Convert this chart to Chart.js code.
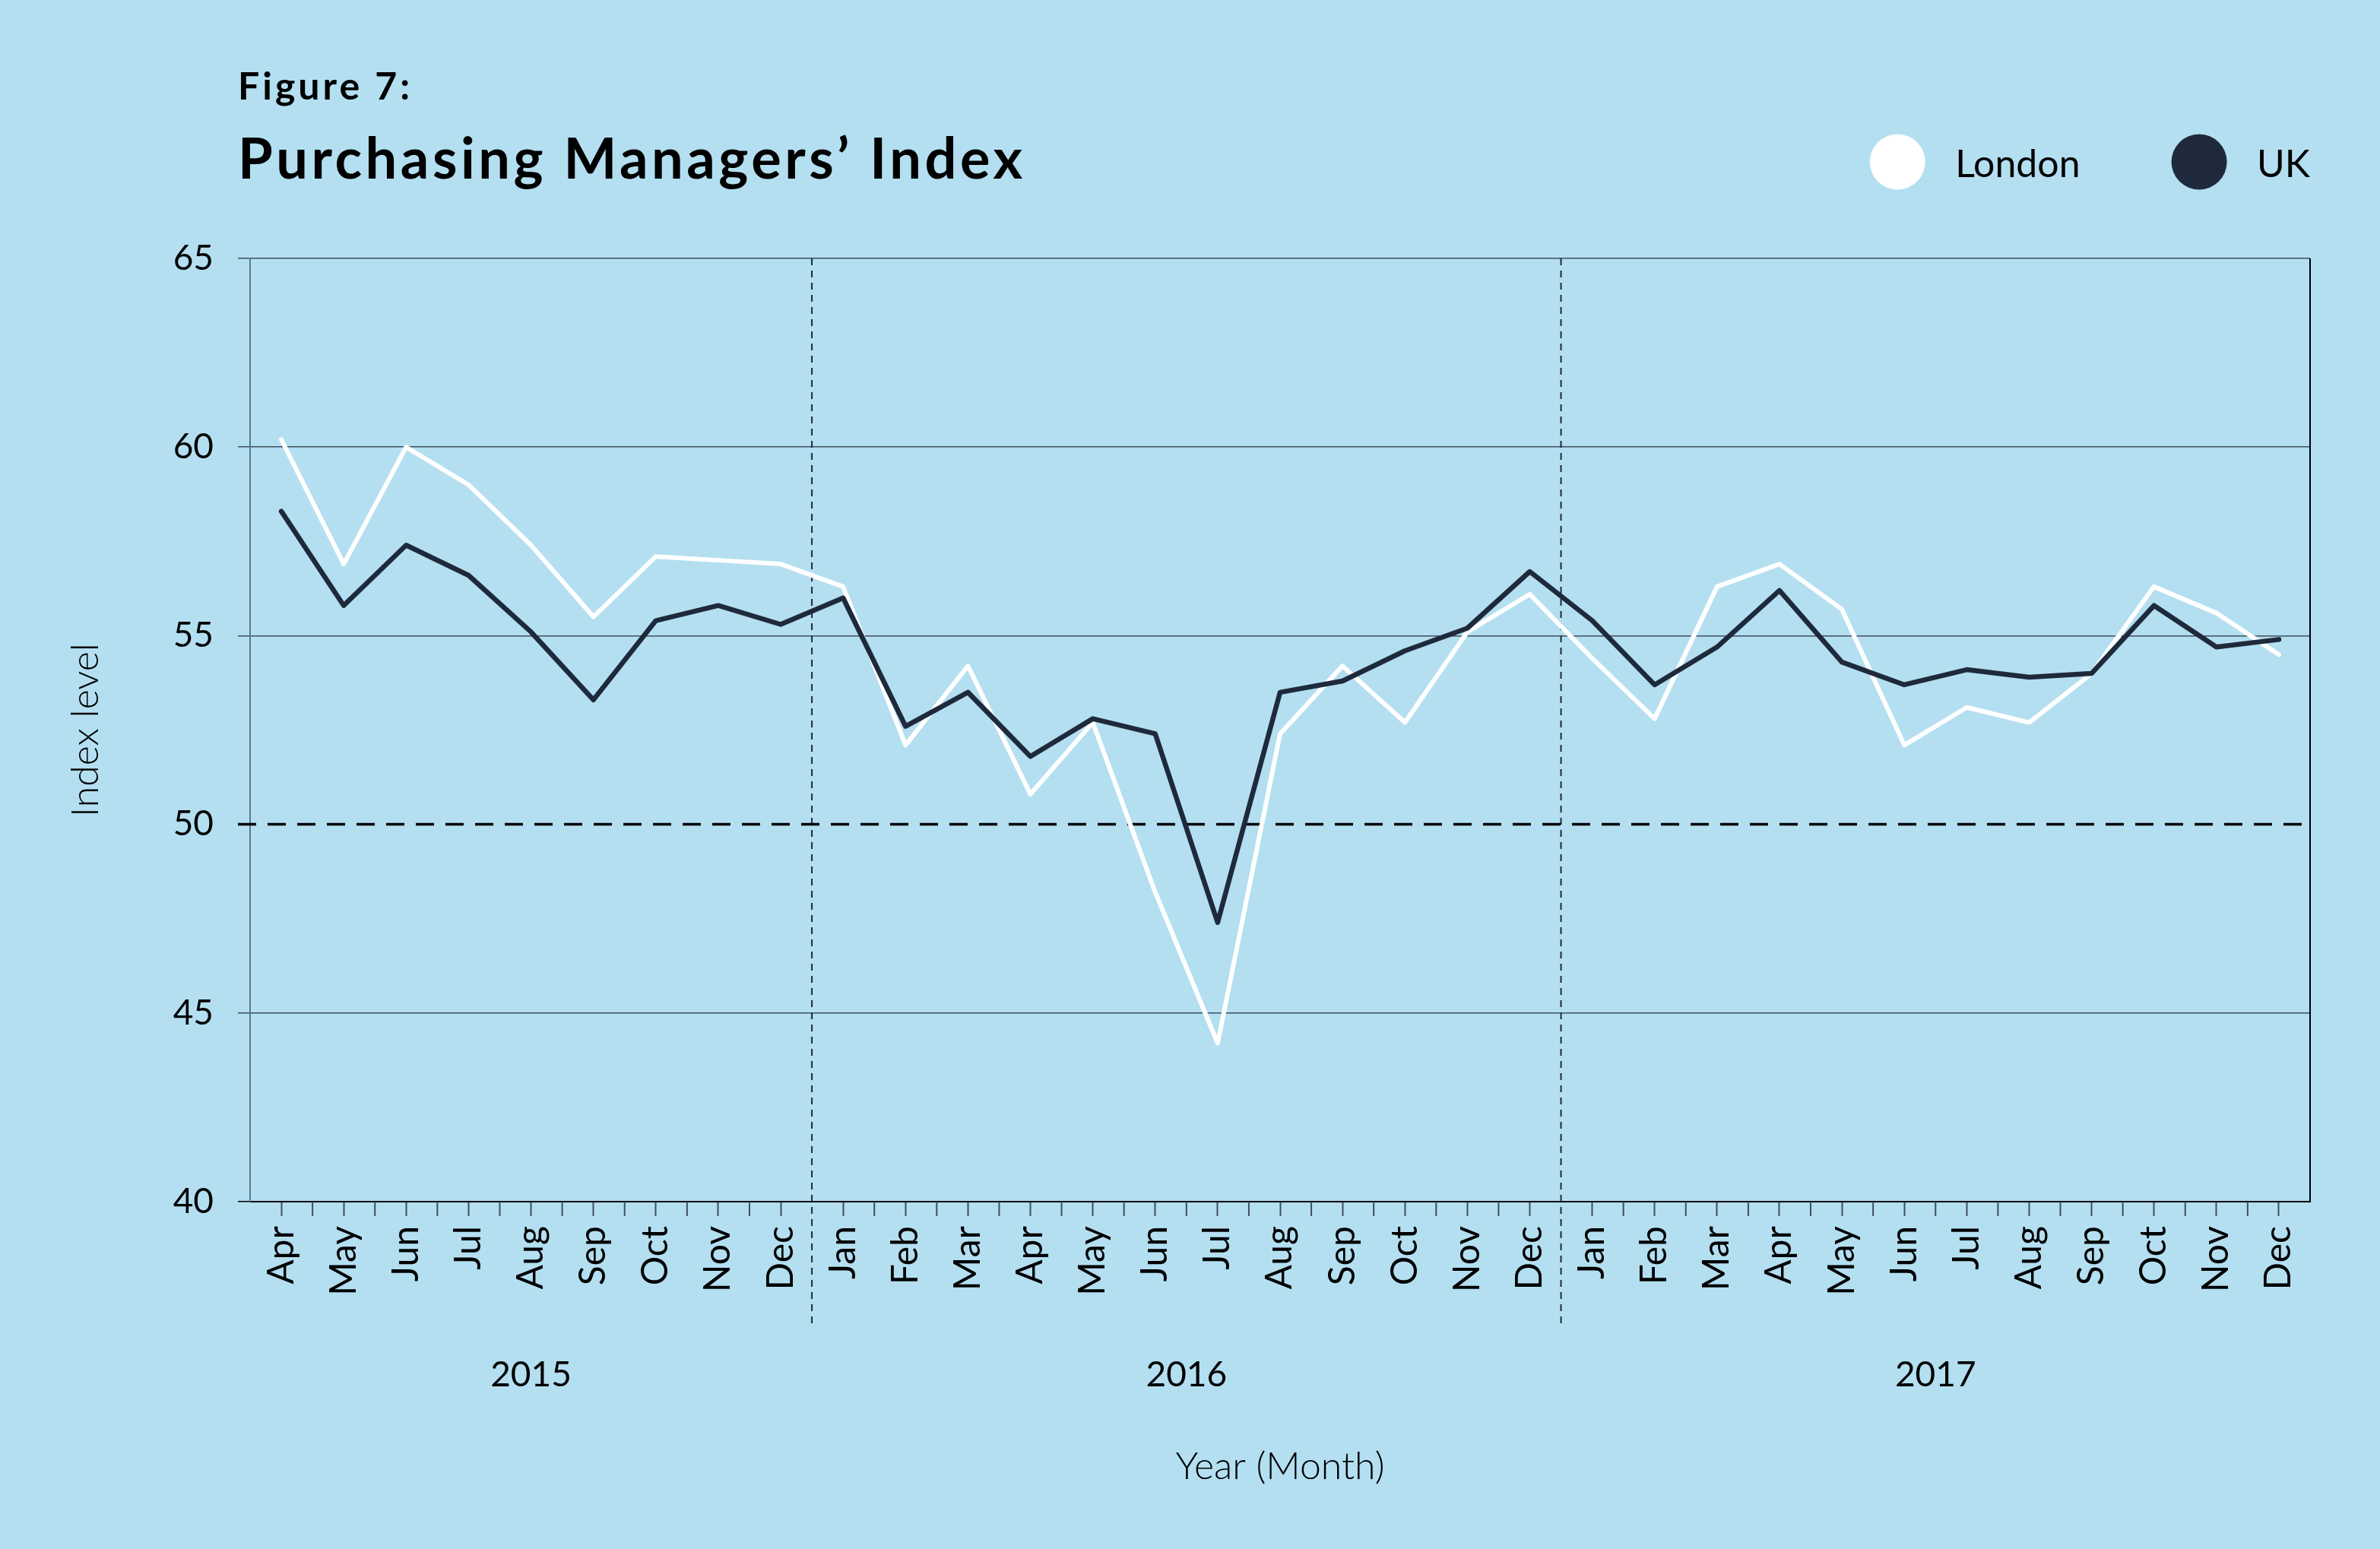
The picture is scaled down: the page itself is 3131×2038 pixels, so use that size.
<!DOCTYPE html>
<html>
<head>
<meta charset="utf-8">
<title>Purchasing Managers' Index</title>
<script src="https://cdn.jsdelivr.net/npm/chart.js@4"></script>
<style>
  html, body { margin: 0; padding: 0; background: #b3dff1; }
  #wrap { width: 3131px; height: 2038px; position: relative; }
</style>
</head>
<body>
<div id="wrap"><canvas id="chart"></canvas></div>
<script>
const figureLabel = 'Figure 7:';
const chartTitle = 'Purchasing Managers\u2019 Index';

const months = ['Apr', 'May', 'Jun', 'Jul', 'Aug', 'Sep', 'Oct', 'Nov', 'Dec',
  'Jan', 'Feb', 'Mar', 'Apr', 'May', 'Jun', 'Jul', 'Aug', 'Sep', 'Oct', 'Nov', 'Dec',
  'Jan', 'Feb', 'Mar', 'Apr', 'May', 'Jun', 'Jul', 'Aug', 'Sep', 'Oct', 'Nov', 'Dec'];
const years = ['2015', '2016', '2017'];

const london = [60.2, 56.9, 60.0, 59.0, 57.4, 55.5, 57.1, 57.0, 56.9,
  56.3, 52.1, 54.2, 50.8, 52.7, 48.2, 44.2, 52.4, 54.2, 52.7, 55.1, 56.1,
  54.4, 52.8, 56.3, 56.9, 55.7, 52.1, 53.1, 52.7, 54.0, 56.3, 55.6, 54.5];
const uk = [58.3, 55.8, 57.4, 56.6, 55.1, 53.3, 55.4, 55.8, 55.3,
  56.0, 52.6, 53.5, 51.8, 52.8, 52.4, 47.4, 53.5, 53.8, 54.6, 55.2, 56.7,
  55.4, 53.7, 54.7, 56.2, 54.3, 53.7, 54.1, 53.9, 54.0, 55.8, 54.7, 54.9];

const yTicks = [40, 45, 50, 55, 60, 65];
const threshold = 50;

const DARK = '#1e2a3b';
const GRID = '#3f4f5a';

// where each year starts in the month list (a new year begins at Jan)
const yearStarts = [0];
months.forEach((m, i) => { if (i > 0 && m === 'Jan') yearStarts.push(i); });
const yearCenters = yearStarts.map((s, k) => {
  const end = k + 1 < yearStarts.length ? yearStarts[k + 1] - 1 : months.length - 1;
  return (s + end) / 2;
});

Chart.defaults.font.family = 'Lato';
Chart.defaults.color = '#000';

// dashed 50 line, year separators, in-between ticks, right border
const framePlugin = {
  id: 'frame',
  beforeDatasetsDraw(chart) {
    const { ctx, chartArea } = chart;
    const xs = chart.scales.x;
    const ys = chart.scales.y;
    ctx.save();

    ctx.strokeStyle = GRID;
    ctx.lineWidth = 2;
    for (let i = 0; i < months.length - 1; i++) {
      if (yearStarts.includes(i + 1)) continue;
      const bx = (xs.getPixelForValue(i) + xs.getPixelForValue(i + 1)) / 2;
      ctx.beginPath();
      ctx.moveTo(bx, chartArea.bottom);
      ctx.lineTo(bx, chartArea.bottom + 19);
      ctx.stroke();
    }

    ctx.strokeStyle = DARK;
    ctx.lineWidth = 2;
    ctx.setLineDash([9, 7]);
    yearStarts.slice(1).forEach(s => {
      const sx = (xs.getPixelForValue(s - 1) + xs.getPixelForValue(s)) / 2;
      ctx.beginPath();
      ctx.moveTo(sx, chartArea.top);
      ctx.lineTo(sx, chartArea.bottom + 162);
      ctx.stroke();
    });

    const ty = ys.getPixelForValue(threshold);
    ctx.strokeStyle = '#000';
    ctx.lineWidth = 3.5;
    ctx.setLineDash([24, 15]);
    ctx.beginPath();
    ctx.moveTo(chartArea.left - 16, ty);
    ctx.lineTo(chartArea.right, ty);
    ctx.stroke();

    ctx.setLineDash([]);
    ctx.lineWidth = 2;
    ctx.beginPath();
    ctx.moveTo(chartArea.right, chartArea.top);
    ctx.lineTo(chartArea.right, chartArea.bottom);
    ctx.stroke();
    ctx.restore();
  }
};

// figure label, title and the circle legend on the right
const headerPlugin = {
  id: 'header',
  afterDraw(chart) {
    const { ctx, chartArea } = chart;
    ctx.save();
    ctx.fillStyle = '#000';
    ctx.textAlign = 'left';
    ctx.textBaseline = 'alphabetic';
    ctx.letterSpacing = '4px';
    ctx.font = 'bold 50px Lato';
    ctx.fillText(figureLabel, chartArea.left - 16, 131);
    ctx.letterSpacing = '4.5px';
    ctx.font = 'bold 74px Lato';
    ctx.fillText(chartTitle, chartArea.left - 16, 235);
    ctx.letterSpacing = '0px';

    ctx.font = '50px Lato';
    const sets = chart.data.datasets;
    let x = chartArea.right;
    for (let i = sets.length - 1; i >= 0; i--) {
      const w = ctx.measureText(sets[i].label).width;
      const textLeft = x - w;
      const cx = textLeft - 76;
      ctx.fillStyle = '#000';
      ctx.fillText(sets[i].label, textLeft, 233);
      ctx.fillStyle = sets[i].borderColor;
      ctx.beginPath();
      ctx.arc(cx, 213, 36.5, 0, Math.PI * 2);
      ctx.fill();
      x = cx - 36.5 - 120;
    }
    ctx.restore();
  }
};

const ctx = document.getElementById('chart');

new Chart(ctx, {
  type: 'line',
  data: {
    labels: months,
    datasets: [
      {
        label: 'London',
        data: london,
        borderColor: '#ffffff',
        backgroundColor: '#ffffff',
        borderWidth: 6,
        order: 1
      },
      {
        label: 'UK',
        data: uk,
        borderColor: DARK,
        backgroundColor: DARK,
        borderWidth: 6.5,
        order: 0
      }
    ]
  },
  options: {
    responsive: true,
    maintainAspectRatio: false,
    animation: false,
    layout: { padding: { top: 340, right: 92, bottom: 0, left: 0 } },
    elements: {
      line: { tension: 0, borderCapStyle: 'round', borderJoinStyle: 'round' },
      point: { radius: 0, hoverRadius: 0 }
    },
    plugins: {
      legend: { display: false },
      tooltip: { enabled: false }
    },
    scales: {
      x: {
        offset: true,
        grid: {
          drawOnChartArea: false,
          offset: false,
          tickLength: 19,
          tickWidth: 2,
          tickColor: GRID
        },
        border: { color: '#000', width: 2 },
        ticks: {
          autoSkip: false,
          minRotation: 90,
          maxRotation: 90,
          padding: 13,
          font: { size: 48 }
        },
        afterFit: scale => { scale.height = 150; }
      },
      years: {
        type: 'linear',
        position: 'bottom',
        min: -0.5,
        max: months.length - 0.5,
        grid: { display: false },
        border: { display: false },
        afterBuildTicks: scale => {
          scale.ticks = yearCenters.map(v => ({ value: v }));
        },
        ticks: {
          autoSkip: false,
          maxRotation: 0,
          padding: 43,
          font: { size: 46 },
          callback: (value, index) => years[index]
        },
        title: {
          display: true,
          text: 'Year (Month)',
          font: { size: 50, weight: 300 },
          padding: { top: 0, bottom: 78 }
        },
        afterFit: scale => { scale.height = 307; }
      },
      y: {
        min: 40,
        max: 65,
        afterBuildTicks: scale => {
          scale.ticks = yTicks.map(v => ({ value: v }));
        },
        grid: {
          color: c => c.tick.value === 40 ? '#000' : (c.tick.value === threshold ? 'rgba(0,0,0,0)' : GRID),
          tickColor: c => c.tick.value === 40 ? '#000' : GRID,
          lineWidth: 1.5,
          tickWidth: 1.5,
          tickLength: 16
        },
        border: { color: '#5c7688', width: 2 },
        ticks: {
          padding: 32,
          font: { size: 46 }
        },
        title: {
          display: true,
          text: 'Index level',
          font: { size: 50, weight: 300 },
          padding: { top: 83, bottom: 0 }
        },
        afterFit: scale => { scale.width = 329; }
      }
    }
  },
  plugins: [framePlugin, headerPlugin]
});
</script>
</body>
</html>
